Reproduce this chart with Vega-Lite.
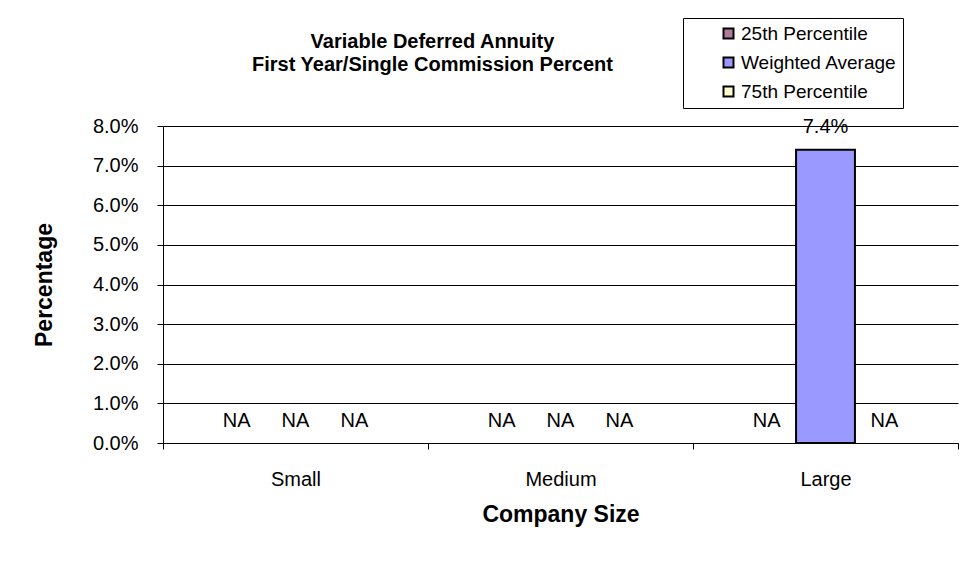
{
  "$schema": "https://vega.github.io/schema/vega-lite/v6.json",
  "autosize": {"type": "none"},
  "width": 795,
  "height": 317,
  "padding": {"left": 163, "top": 126, "right": 21, "bottom": 137},
  "background": "white",
  "title": {
    "text": ["Variable Deferred Annuity", "First Year/Single Commission Percent"],
    "font": "Liberation Sans",
    "fontSize": 20,
    "fontWeight": "bold",
    "color": "black",
    "lineHeight": 23,
    "anchor": "middle",
    "dx": -128,
    "offset": 0,
    "dy": 57
  },
  "config": {
    "font": "Liberation Sans",
    "view": {"stroke": null},
    "axis": {
      "labelFont": "Liberation Sans",
      "labelFontSize": 20,
      "labelColor": "black",
      "titleFont": "Liberation Sans",
      "titleFontSize": 23,
      "titleFontWeight": "bold",
      "titleColor": "black",
      "domainColor": "black",
      "tickColor": "black",
      "gridColor": "black",
      "gridOpacity": 1
    }
  },
  "data": {
    "values": [
      {"size": "Small", "series": "25th Percentile", "value": null, "label": "NA"},
      {"size": "Small", "series": "Weighted Average", "value": null, "label": "NA"},
      {"size": "Small", "series": "75th Percentile", "value": null, "label": "NA"},
      {"size": "Medium", "series": "25th Percentile", "value": null, "label": "NA"},
      {"size": "Medium", "series": "Weighted Average", "value": null, "label": "NA"},
      {"size": "Medium", "series": "75th Percentile", "value": null, "label": "NA"},
      {"size": "Large", "series": "25th Percentile", "value": null, "label": "NA"},
      {"size": "Large", "series": "Weighted Average", "value": 0.074, "label": "7.4%"},
      {"size": "Large", "series": "75th Percentile", "value": null, "label": "NA"}
    ]
  },
  "encoding": {
    "x": {
      "field": "size",
      "type": "nominal",
      "sort": ["Small", "Medium", "Large"],
      "scale": {"paddingInner": 0, "paddingOuter": 0},
      "axis": {
        "title": "Company Size",
        "labelAngle": 0,
        "tickBand": "extent",
        "tickSize": 6,
        "labelPadding": 20,
        "titlePadding": 14,
        "domainColor": "black"
      }
    },
    "xOffset": {
      "field": "series",
      "type": "nominal",
      "sort": ["25th Percentile", "Weighted Average", "75th Percentile"],
      "scale": {"paddingInner": 0, "paddingOuter": 0.75}
    }
  },
  "layer": [
    {
      "mark": {"type": "bar", "stroke": "black", "strokeWidth": 2},
      "encoding": {
        "y": {
          "field": "value",
          "type": "quantitative",
          "scale": {"domain": [0, 0.08], "nice": false},
          "axis": {
            "title": "Percentage",
            "values": [0, 0.01, 0.02, 0.03, 0.04, 0.05, 0.06, 0.07, 0.08],
            "format": ".1%",
            "tickSize": 6,
            "labelPadding": 19,
            "titlePadding": 36,
            "labelOverlap": false,
            "grid": true
          }
        },
        "color": {
          "field": "series",
          "type": "nominal",
          "scale": {
            "domain": ["25th Percentile", "Weighted Average", "75th Percentile"],
            "range": ["#b07b98", "#9999FF", "#FFFFCC"]
          },
          "legend": {
            "title": null,
            "orient": "none",
            "legendX": 520,
            "legendY": -108,
            "symbolType": "square",
            "symbolSize": 100,
            "symbolStrokeColor": "black",
            "symbolStrokeWidth": 2,
            "symbolOpacity": 1,
            "labelFont": "Liberation Sans",
            "labelFontSize": 19,
            "labelColor": "black",
            "labelOffset": 3,
            "rowPadding": 9,
            "padding": 6,
            "symbolOffset": 30,
            "strokeColor": "black",
            "fillColor": "white"
          }
        }
      }
    },
    {
      "transform": [{"filter": "datum.value == null"}],
      "mark": {"type": "text", "fontSize": 20, "baseline": "middle", "dy": -22, "color": "black"},
      "encoding": {
        "y": {
          "datum": 0,
          "type": "quantitative",
          "axis": {
            "title": "Percentage",
            "values": [0, 0.01, 0.02, 0.03, 0.04, 0.05, 0.06, 0.07, 0.08],
            "format": ".1%",
            "tickSize": 6,
            "labelPadding": 19,
            "titlePadding": 36,
            "labelOverlap": false,
            "grid": true
          }
        },
        "text": {"field": "label"}
      }
    },
    {
      "transform": [{"filter": "datum.value != null"}],
      "mark": {"type": "text", "fontSize": 20, "baseline": "middle", "dy": -23, "color": "black"},
      "encoding": {
        "y": {
          "field": "value",
          "type": "quantitative",
          "axis": {
            "title": "Percentage",
            "values": [0, 0.01, 0.02, 0.03, 0.04, 0.05, 0.06, 0.07, 0.08],
            "format": ".1%",
            "tickSize": 6,
            "labelPadding": 19,
            "titlePadding": 36,
            "labelOverlap": false,
            "grid": true
          }
        },
        "text": {"field": "label"}
      }
    }
  ]
}
